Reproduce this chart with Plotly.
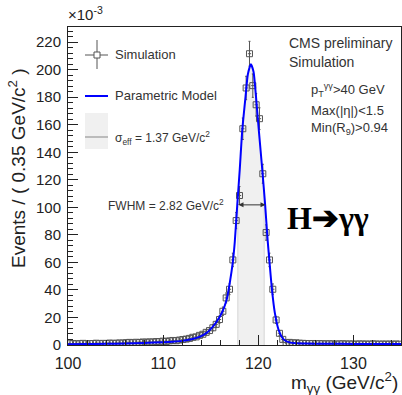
import plotly.graph_objects as go
import numpy as np

# ---------------- data ----------------
bin_lo = 100.0
bin_w = 0.35
n_bins = 100
mass = [round(bin_lo + bin_w * (k + 0.5), 4) for k in range(n_bins)]

events = [
    0.9, 1.1, 0.8, 1.0, 1.2, 0.9, 1.0, 1.1, 1.3, 1.0,
    1.2, 1.1, 1.4, 1.2, 1.3, 1.5, 1.4, 1.7, 1.9, 1.6,
    2.0, 1.8, 2.2, 2.0, 2.3, 2.1, 2.5, 2.4, 2.8, 2.6,
    3.0, 3.3, 3.1, 3.6, 4.0, 4.3, 4.8, 5.6, 5.9, 7.0,
    7.8, 9.2, 10.5, 12.5, 15.0, 18.5, 24.5, 34.2, 40.5, 61.8,
    90.4, 108.6, 157.1, 186.7, 211.6, 188.4, 174.5, 164.4, 124.4, 81.7,
    61.8, 40.5, 18.2, 8.5, 4.1, 1.7, 1.9, 1.5, 1.6, 1.3,
    1.2, 1.1, 1.0, 1.1, 0.9, 1.0, 0.9, 0.8, 0.9, 0.8,
    0.7, 0.8, 0.9, 0.7, 0.8, 0.7, 0.6, 0.8, 0.7, 0.7,
    0.6, 0.8, 0.7, 0.6, 0.7, 0.6, 0.7, 0.6, 0.7, 0.6,
]
errors = [
    0.6, 0.6, 0.6, 0.6, 0.7, 0.6, 0.6, 0.6, 0.7, 0.6,
    0.7, 0.6, 0.7, 0.7, 0.7, 0.8, 0.7, 0.8, 0.9, 0.8,
    0.9, 0.8, 0.9, 0.9, 0.9, 0.9, 1.0, 1.0, 1.0, 1.0,
    1.1, 1.1, 1.1, 1.2, 1.2, 1.3, 1.4, 1.5, 1.5, 1.6,
    1.7, 1.9, 2.0, 2.2, 2.4, 2.7, 3.1, 3.6, 3.9, 4.9,
    5.9, 6.5, 7.8, 8.5, 9.0, 8.5, 8.2, 7.9, 6.9, 5.6,
    4.9, 3.9, 2.6, 1.8, 1.3, 0.8, 0.9, 0.8, 0.8, 0.7,
    0.7, 0.7, 0.6, 0.7, 0.6, 0.6, 0.6, 0.6, 0.6, 0.6,
    0.5, 0.6, 0.6, 0.5, 0.6, 0.5, 0.5, 0.6, 0.5, 0.5,
    0.5, 0.6, 0.5, 0.5, 0.5, 0.5, 0.5, 0.5, 0.5, 0.5,
]

# parametric model
model_m = [100.0, 102.0, 104.0, 106.0, 108.0, 110.0, 111.0, 112.0, 112.84, 113.5,
           114.0, 114.53, 115.0, 115.58, 116.21, 116.68, 117.0, 117.32, 117.53, 117.79,
           118.05, 118.32, 118.66, 118.9, 119.22, 119.5, 119.76, 120.05, 120.42, 120.72,
           120.98, 121.16, 121.44, 121.74, 122.14, 122.66, 123.37, 124.0, 125.0, 127.0,
           130.0, 135.0]
model_v = [0.6, 0.7, 0.9, 1.1, 1.5, 2.0, 2.4, 3.0, 4.0, 5.2,
           6.5, 8.6, 11.5, 16.5, 24.0, 33.0, 45.0, 60.0, 75.0, 101.8,
           127.3, 156.4, 180.4, 196.5, 204.0, 198.5, 180.4, 156.4, 127.3, 101.8,
           76.4, 61.8, 40.0, 23.3, 10.9, 4.1, 1.7, 1.3, 1.1, 0.9,
           0.8, 0.7]

sigma_eff_lo, sigma_eff_hi = 117.85, 120.62
fwhm_lo, fwhm_hi, half_max = 117.76, 120.76, 101.8

# ---------------- figure ----------------
W, H = 402, 395
L, R, T, B = 68, 1, 27, 50
pw, ph = W - L - R, H - T - B


def px(x):
    return (x - L) / pw


def py(y):
    return (H - B - y) / ph


fig = go.Figure()

# sigma_eff band under the curve
mm = np.array(model_m)
mv = np.array(model_v)
inside = (mm > sigma_eff_lo) & (mm < sigma_eff_hi)
band_x = [sigma_eff_lo] + list(mm[inside]) + [sigma_eff_hi]
band_y = [float(np.interp(sigma_eff_lo, mm, mv))] + list(mv[inside]) + [float(np.interp(sigma_eff_hi, mm, mv))]
fig.add_trace(go.Scatter(x=band_x, y=band_y, mode="lines", line=dict(color="#f0f0f0", width=0, shape="spline"),
                         fill="tozeroy", fillcolor="#f0f0f0", hoverinfo="skip", showlegend=False))
for xb, yb in [(band_x[0], band_y[0]), (band_x[-1], band_y[-1])]:
    fig.add_trace(go.Scatter(x=[xb, xb], y=[0, yb], mode="lines", line=dict(color="#d4d4d4", width=1),
                             hoverinfo="skip", showlegend=False))

# simulation points
fig.add_trace(go.Scatter(
    x=mass, y=events, mode="markers",
    marker=dict(symbol="square-open", size=6, color="#555555", line=dict(width=1, color="#555555")),
    error_y=dict(type="data", array=errors, color="#555555", thickness=1, width=1),
    error_x=dict(type="constant", value=bin_w / 2, color="#555555", thickness=1, width=0),
    showlegend=False))

# model curve
fig.add_trace(go.Scatter(x=model_m, y=model_v, mode="lines",
                         line=dict(color="#0000ff", width=2, shape="spline", smoothing=0.6),
                         showlegend=False))

fig.update_layout(
    width=W, height=H, margin=dict(l=L, r=R, t=T, b=B),
    paper_bgcolor="white", plot_bgcolor="white",
    font=dict(family="Liberation Sans, Arial, sans-serif", color="#222222"),
    xaxis=dict(range=[100, 135], tickvals=[100, 110, 120, 130], ticks="inside", ticklen=10,
               tickcolor="#222", linecolor="#222", linewidth=1, mirror=True, showgrid=False,
               zeroline=False, tickfont=dict(size=16), ticklabelstandoff=4,
               minor=dict(dtick=2, ticks="inside", ticklen=5, tickcolor="#222")),
    yaxis=dict(range=[0, 231], tickvals=list(range(0, 221, 20)), ticks="inside", ticklen=10,
               tickcolor="#222", linecolor="#222", linewidth=1, mirror=True, showgrid=False,
               zeroline=False, tickfont=dict(size=15), ticklabelstandoff=3,
               minor=dict(dtick=4, ticks="inside", ticklen=5, tickcolor="#222")),
)

ann = []
shapes = []


def text(x, y, s, size, xanchor="left", color="#333333", family=None, angle=0):
    d = dict(x=px(x), y=py(y), xref="paper", yref="paper", text=s, showarrow=False,
             xanchor=xanchor, yanchor="middle", font=dict(size=size, color=color), textangle=angle)
    if family:
        d["font"]["family"] = family
    ann.append(d)


# axis titles
text(17, 168, "Events / ( 0.35 GeV/c<sup>2</sup> )", 19, xanchor="center", color="#222", angle=-90)
text(400, 382, "m<sub>γγ</sub> (GeV/c<sup>2</sup>)", 19, xanchor="right", color="#222")
text(66, 14, "×10<sup>-3</sup>", 15, color="#222")

# legend
shapes.append(dict(type="rect", xref="paper", yref="paper", x0=px(85), x1=px(108), y0=py(149), y1=py(113),
                   fillcolor="#f0f0f0", line=dict(width=0), layer="below"))
shapes.append(dict(type="line", xref="paper", yref="paper", x0=px(85), x1=px(108), y0=py(137), y1=py(137),
                   line=dict(color="#aaaaaa", width=1.5)))
shapes.append(dict(type="line", xref="paper", yref="paper", x0=px(85), x1=px(108), y0=py(55), y1=py(55),
                   line=dict(color="#555555", width=1)))
shapes.append(dict(type="line", xref="paper", yref="paper", x0=px(97), x1=px(97), y0=py(40), y1=py(69),
                   line=dict(color="#555555", width=1)))
shapes.append(dict(type="rect", xref="paper", yref="paper", x0=px(94), x1=px(100), y0=py(58), y1=py(52),
                   fillcolor="white", line=dict(color="#555555", width=1)))
shapes.append(dict(type="line", xref="paper", yref="paper", x0=px(85), x1=px(108), y0=py(96), y1=py(96),
                   line=dict(color="#0000ff", width=2)))
text(113, 55, "Simulation", 13)
text(113, 96, "Parametric Model", 13)
text(113, 138, "σ<sub>eff</sub> = 1.37 GeV/c<sup>2</sup>", 12)

# top-right labels
text(287, 43, "CMS preliminary", 14)
text(287, 62, "Simulation", 14)
text(309, 90, "p<sub>T</sub><sup>γγ</sup>>40 GeV", 13)
text(309, 110, "Max(|η|)<1.5", 13)
text(309, 128, "Min(R<sub>9</sub>)>0.94", 13)

# FWHM
text(226, 205, "FWHM = 2.82 GeV/c<sup>2</sup>", 12, xanchor="right")
ann.append(dict(x=fwhm_hi, y=half_max, ax=fwhm_lo, ay=half_max, xref="x", yref="y", axref="x", ayref="y",
                showarrow=True, arrowhead=2, startarrowhead=2, arrowside="end+start", arrowsize=1,
                arrowwidth=1, arrowcolor="#333333", text=""))

# H -> gamma gamma
text(285, 218, "<b>H➔γγ</b>", 32, color="#000000", family="Liberation Serif, DejaVu Serif, serif")

fig.update_layout(annotations=ann, shapes=shapes)
fig.write_html("out.html")
